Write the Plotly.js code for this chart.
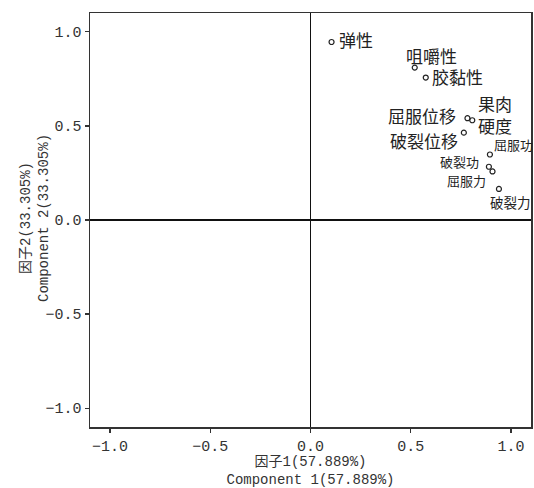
<!DOCTYPE html>
<html><head><meta charset="utf-8">
<script src="https://cdn.plot.ly/plotly-3.0.1.min.js"></script>
<style>body{margin:0;background:#fff}#c{width:534px;height:488px}</style>
</head><body><div id="c"></div>
<script>
const labels = ['弹性','咀嚼性','胶黏性','屈服位移','果肉<br>硬度','破裂位移','屈服功','破裂功','屈服力','破裂力'];
const comp1 = [0.105, 0.52, 0.575, 0.783, 0.807, 0.765, 0.895, 0.89, 0.908, 0.94];
const comp2 = [0.946, 0.81, 0.757, 0.541, 0.53, 0.464, 0.348, 0.283, 0.258, 0.165];
const tickVals = [-1.0, -0.5, 0.0, 0.5, 1.0];
const tickText = ['−1.0', '−0.5', '0.0', '0.5', '1.0'];
// label placement (style only)
const lblAnchor = ['left','center','left','right','left','right','left','right','right','left'];
const lblDx = [5, 17, 4, -9, 4, -4, 2, -8, -5, -11];
const lblDy = [2, 12, 1, 3, 6, -8, 10, 5, -9, -13];
const lblSize = [17,17,17,17,17,17,13,13,13,13.5];

const mono = 'Liberation Mono, DejaVu Sans Mono, Noto Sans CJK SC, monospace';
const cjk = 'Noto Sans CJK SC, sans-serif';
const trace = {
  x: comp1, y: comp2, mode: 'markers', type: 'scatter',
  marker: {symbol: 'circle-open', size: 5, color: '#222', line: {width: 1.2, color: '#222'}},
  cliponaxis: false, hoverinfo: 'none'
};
const annotations = labels.map((t, i) => ({
  x: comp1[i], y: comp2[i], xref: 'x', yref: 'y', text: t, showarrow: false,
  xanchor: lblAnchor[i], yanchor: 'middle', xshift: lblDx[i], yshift: lblDy[i],
  font: {family: cjk, size: lblSize[i], color: '#222'}
}));
annotations.push({
  xref: 'paper', yref: 'paper', x: 0, y: 0.5, xanchor: 'center', yanchor: 'middle',
  xshift: -55, yshift: 2, textangle: -90, showarrow: false,
  text: '因子2(33.305%)<br>Component 2(33.305%)',
  font: {family: mono, size: 14, color: '#333'}
});
const axisCommon = {
  range: [-1.1, 1.1], tickvals: tickVals, ticktext: tickText,
  ticks: 'outside', ticklen: 4, tickwidth: 1.2, tickcolor: '#333',
  showline: true, linecolor: '#333', linewidth: 1.5, mirror: true,
  showgrid: false, zeroline: true, zerolinecolor: '#111', zerolinewidth: 1.5,
  tickfont: {family: mono, size: 15, color: '#333'}
};
const layout = {
  width: 534, height: 488,
  margin: {l: 90, r: 3, t: 13, b: 61},
  paper_bgcolor: '#fff', plot_bgcolor: '#fff', showlegend: false,
  annotations: annotations,
  xaxis: Object.assign({}, axisCommon, {
    title: {text: '因子1(57.889%)<br>Component 1(57.889%)', standoff: 4,
      font: {family: mono, size: 14, color: '#333'}}
  }),
  yaxis: Object.assign({}, axisCommon)
};
Plotly.newPlot('c', [trace], layout, {displayModeBar: false, staticPlot: true});
</script></body></html>
